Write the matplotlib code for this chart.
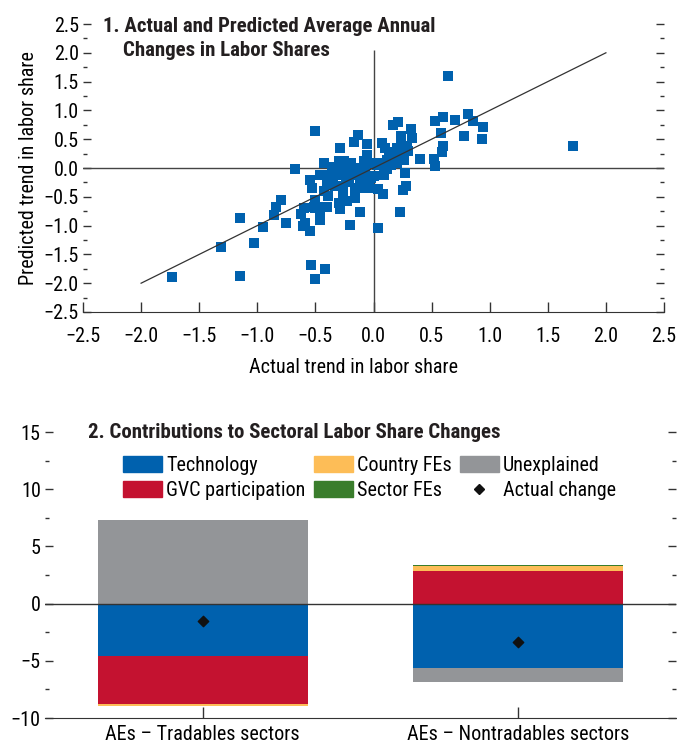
import numpy as np
import matplotlib
matplotlib.use("Agg")
import matplotlib.pyplot as plt
from matplotlib.patches import Patch
from matplotlib.lines import Line2D
from matplotlib.ticker import MultipleLocator

plt.rcParams["font.family"] = ["Roboto Condensed", "Liberation Sans", "DejaVu Sans"]

# Panel 1: actual vs predicted trends
actual = [
    -1.73, -1.31, -1.15, -1.15, -1.03, -0.95, -0.86, -0.84, -0.80, -0.75,
    -0.675, -0.62, -0.61, -0.55, -0.54, -0.50, -0.42, -0.46, -0.55, -0.53,
    -0.50, -0.50, -0.43, -0.40, -0.39, -0.50, -0.60, -0.59, -0.51, -0.46,
    -0.43, -0.30, -0.29, -0.23, -0.16, -0.115, -0.20, -0.33, -0.21, -0.12,
    -0.46, -0.40, -0.35, -0.29, -0.24, -0.18, -0.13, -0.40, -0.35, -0.26,
    -0.16, -0.10, -0.04, -0.30, -0.22, -0.14, -0.36, -0.29, -0.135, -0.17,
    -0.06, -0.06, -0.08, -0.03, -0.30, -0.25, -0.19, -0.07, -0.02, -0.06,
    0.00, 0.03, 0.06, 0.07, 0.10, 0.17, 0.21, 0.325, 0.24, 0.33,
    0.24, 0.20, 0.29, 0.30, 0.17, 0.115, 0.20, 0.26, 0.27, 0.28,
    0.25, 0.23, 0.08, 0.09, 0.035, 0.04, 0.15, 0.12, 0.40, 0.52,
    0.53, 0.59, 0.60, 0.58, 0.53, 0.60, 0.70, 0.78, 0.81, 0.86,
    0.93, 0.94, 0.64, 1.72, -0.43, -0.26, 0.13, 0.22,
]
predicted = [
    -1.90, -1.38, -0.86, -1.88, -1.30, -1.03, -0.82, -0.67, -0.55, -0.95,
    -0.02, -0.80, -1.01, -1.10, -1.69, -1.93, -1.76, -0.90, -0.20, -0.35,
    -0.55, -0.70, 0.09, -0.67, -0.49, 0.64, -0.70, -0.96, -0.67, -0.73,
    -0.67, -0.61, -0.72, -0.58, -0.52, -0.77, -0.99, -0.32, -0.25, -0.22,
    -0.12, -0.12, -0.16, -0.12, -0.15, -0.10, -0.13, -0.29, -0.23, -0.32,
    -0.35, -0.35, -0.35, -0.05, -0.02, 0.00, 0.02, 0.34, 0.58, 0.46,
    0.42, 0.23, 0.12, 0.09, 0.12, 0.12, 0.09, -0.06, -0.17, -0.17,
    -0.14, 0.06, 0.09, 0.43, 0.34, 0.75, 0.80, 0.68, 0.55, 0.52,
    0.43, 0.35, 0.38, 0.30, 0.27, 0.14, 0.09, 0.14, -0.08, -0.31,
    -0.38, -0.77, -0.46, -0.12, -0.37, -1.05, 0.05, -0.02, 0.16, 0.16,
    0.04, 0.27, 0.38, 0.61, 0.81, 0.89, 0.84, 0.55, 0.94, 0.81,
    0.51, 0.71, 1.59, 0.38, -0.40, -0.45, 0.22, 0.20,
]

# Panel 2: contributions to sectoral labor share changes
sectors = ["AEs \u2013 Tradables sectors", "AEs \u2013 Nontradables sectors"]
technology = [-4.55, -5.60]
gvc = [-4.20, 2.81]
country_fe = [-0.18, 0.52]
unexplained = [7.30, -1.22]
sector_fe = [0.05, 0.08]
actual_change = [-1.54, -3.36]

blue = "#0061AE"
red = "#C41230"
yellow = "#FDBD57"
gray = "#939598"
green = "#3A7D2C"
colors = [blue, red, yellow, gray, green]

fs = 14.5
tfs = 15

fig = plt.figure(figsize=(6.77, 7.45), dpi=100)

# ---------- Panel 1 ----------
ax1 = fig.add_axes([83 / 677, 1 - 312 / 745, 581 / 677, 288 / 745])
ax1.scatter(actual, predicted, marker="s", s=58, color=blue, linewidths=0, zorder=3)
ax1.plot([-2, 2], [-2, 2], color="#333333", lw=0.9, zorder=4)
ax1.axhline(0, color="#444444", lw=1.0, zorder=2)
ax1.vlines(0, -2.5, 2.05, color="#444444", lw=1.0, zorder=2)
ax1.set_xlim(-2.5, 2.5)
ax1.set_ylim(-2.5, 2.5)
ax1.xaxis.set_major_locator(MultipleLocator(0.5))
ax1.yaxis.set_major_locator(MultipleLocator(0.5))
ax1.yaxis.set_minor_locator(MultipleLocator(0.25))
ax1.xaxis.set_major_formatter(lambda v, p: f"{v:.1f}".replace("-", "\u2212"))
ax1.yaxis.set_major_formatter(lambda v, p: f"{v:.1f}".replace("-", "\u2212"))
for s in ["top", "left", "right"]:
    ax1.spines[s].set_visible(False)
ax1.spines["bottom"].set_color("#333333")
ax1.tick_params(axis="x", direction="in", length=7, width=1, pad=11, labelsize=fs, color="#333333")
ax1.tick_params(axis="y", which="major", direction="in", length=6, width=1, pad=3,
                labelsize=fs, right=True, color="#333333")
ax1.tick_params(axis="y", which="minor", direction="in", length=3, width=1, right=True, color="#333333")
ax1.set_xlabel("Actual trend in labor share", fontsize=fs)
ax1.set_ylabel("Predicted trend in labor share", fontsize=fs)
ax1.xaxis.set_label_coords(0.466, -0.16)
ax1.yaxis.set_label_coords(-0.078, 0.5)

fig.text(103 / 677, 1 - 17 / 745, "1. Actual and Predicted Average Annual",
         fontsize=tfs, fontweight="bold", va="top", ha="left", color="#231f20")
fig.text(123 / 677, 1 - 41 / 745, "Changes in Labor Shares",
         fontsize=tfs, fontweight="bold", va="top", ha="left", color="#231f20")

# ---------- Panel 2 ----------
ax2 = fig.add_axes([45 / 677, 1 - 718 / 745, 631 / 677, 286 / 745])
x = np.arange(len(sectors))
pos_base = np.zeros(len(sectors))
neg_base = np.zeros(len(sectors))
for vals, c in zip([technology, gvc, country_fe, unexplained, sector_fe], colors):
    vals = np.array(vals)
    base = np.where(vals >= 0, pos_base, neg_base)
    ax2.bar(x, vals, bottom=base, width=0.665, color=c, linewidth=0, zorder=2)
    pos_base = pos_base + np.where(vals >= 0, vals, 0)
    neg_base = neg_base + np.where(vals < 0, vals, 0)
ax2.scatter(x, actual_change, marker="D", s=28, color="#111111", zorder=4)
ax2.axhline(0, color="#333333", lw=1.0, zorder=3)
ax2.set_xlim(-0.5, 1.5)
ax2.set_ylim(-10, 15)
ax2.set_xticks(x)
ax2.set_xticklabels(sectors)
ax2.yaxis.set_major_locator(MultipleLocator(5))
ax2.yaxis.set_minor_locator(MultipleLocator(2.5))
ax2.yaxis.set_major_formatter(lambda v, p: f"{v:.0f}".replace("-", "\u2212"))
for s in ["top", "left", "right"]:
    ax2.spines[s].set_visible(False)
ax2.spines["bottom"].set_color("#333333")
ax2.tick_params(axis="x", direction="in", length=8, width=1, pad=5, labelsize=fs, color="#333333")
ax2.tick_params(axis="y", which="major", direction="in", length=6, width=1, pad=3,
                labelsize=fs, right=True, color="#333333")
ax2.tick_params(axis="y", which="minor", direction="in", length=3, width=1, right=True, color="#333333")

fig.text(88 / 677, 1 - 432 / 745, "2. Contributions to Sectoral Labor Share Changes",
         fontsize=tfs, fontweight="bold", va="center", ha="left", color="#231f20")

handles = [
    Patch(color=blue, label="Technology"),
    Patch(color=red, label="GVC participation"),
    Patch(color=yellow, label="Country FEs"),
    Patch(color=green, label="Sector FEs"),
    Patch(color=gray, label="Unexplained"),
    Line2D([], [], marker="D", color="#111111", linestyle="none", markersize=5, label="Actual change"),
]
fig.legend(handles=handles, ncol=3, loc="upper left", bbox_to_anchor=(123 / 677, 1 - 456 / 745),
           frameon=False, fontsize=fs, handlelength=1.95, handleheight=0.8, handletextpad=0.2,
           columnspacing=0.4, labelspacing=0.3, borderpad=0, borderaxespad=0)

fig.savefig("out.png", dpi=100)
